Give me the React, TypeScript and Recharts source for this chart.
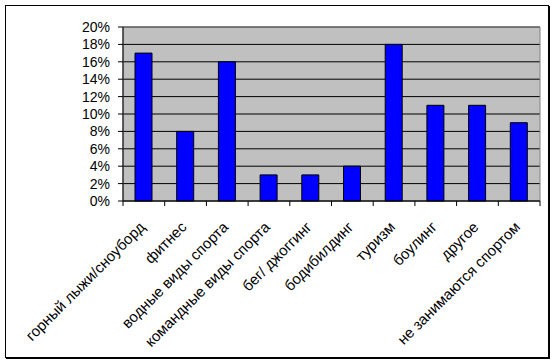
import { BarChart, Bar, XAxis, YAxis, CartesianGrid, ReferenceArea } from 'recharts';

const categories = [
  'горный лыжи/сноуборд',
  'фитнес',
  'водные виды спорта',
  'командные виды спорта',
  'бег/ джоггинг',
  'бодибилдинг',
  'туризм',
  'боулинг',
  'другое',
  'не занимаются спортом',
];
const shares = [0.17, 0.08, 0.16, 0.03, 0.03, 0.04, 0.18, 0.11, 0.11, 0.09];
const yTicks = [0, 0.02, 0.04, 0.06, 0.08, 0.1, 0.12, 0.14, 0.16, 0.18, 0.2];

const data = categories.map((name, i) => ({ name, share: shares[i] }));

const FONT = '"Liberation Sans", Arial, sans-serif';

// tick line on the band boundaries, label turned 45° below the band centre
function CategoryTick(props: any) {
  const { x, y, payload, index } = props;
  const half = payload.offset ?? 0;
  const axisY = y - 13;
  const lx = x + 2;
  const ly = axisY + 27;
  return (
    <g>
      <line x1={x - half} y1={axisY} x2={x - half} y2={axisY + 5} stroke="#000" />
      {index === categories.length - 1 && (
        <line x1={x + half} y1={axisY} x2={x + half} y2={axisY + 5} stroke="#000" />
      )}
      <text
        x={lx}
        y={ly}
        textAnchor="end"
        transform={`rotate(-45 ${lx} ${ly})`}
        fontSize={15}
        fontFamily={FONT}
        fill="#000"
      >
        {payload.value}
      </text>
    </g>
  );
}

export default function App() {
  return (
    <div style={{ position: 'absolute', left: 0, top: 0, width: 556, height: 364, background: '#fff' }}>
      <div
        style={{
          position: 'absolute',
          left: 5,
          top: 5,
          width: 544,
          height: 353,
          boxSizing: 'border-box',
          border: '1px solid #000',
          boxShadow: '1px 1px 0 #000',
        }}
      />
      <div style={{ position: 'absolute', left: 0, top: 0 }}>
        <BarChart width={556} height={364} data={data} margin={{ top: 27, right: 16, left: 0, bottom: 0 }}>
          <CartesianGrid vertical={false} stroke="#000" fill="#C0C0C0" fillOpacity={1} />
          <ReferenceArea y1={0} y2={0.2} fill="none" stroke="#808080" />
          <XAxis
            dataKey="name"
            interval={0}
            height={163}
            axisLine={{ stroke: '#000' }}
            tickLine={false}
            tickSize={5}
            tickMargin={8}
            tick={<CategoryTick />}
          />
          <YAxis
            width={123}
            domain={[0, 0.2]}
            ticks={yTicks}
            interval={0}
            tickFormatter={(v: number) => `${Math.round(v * 100)}%`}
            axisLine={{ stroke: '#000' }}
            tickLine={{ stroke: '#000' }}
            tickSize={5}
            tickMargin={8}
            tick={{ fontSize: 14, fontFamily: FONT, fill: '#000' }}
          />
          <Bar dataKey="share" fill="#0000FF" stroke="#000" strokeWidth={1} barSize={17} isAnimationActive={false} />
        </BarChart>
      </div>
    </div>
  );
}
